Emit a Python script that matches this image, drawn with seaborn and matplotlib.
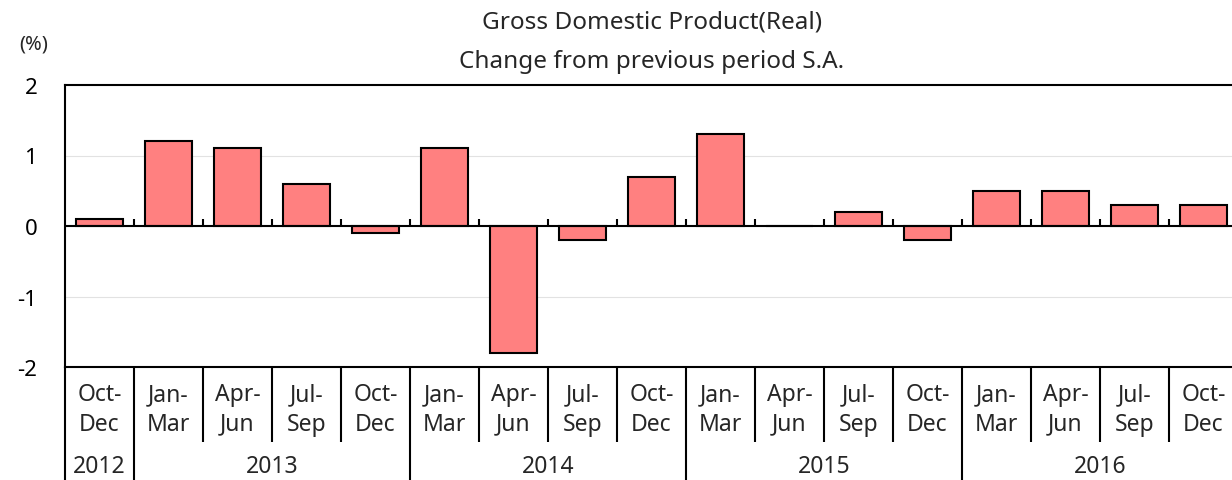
import matplotlib

matplotlib.use("Agg")
import matplotlib.pyplot as plt
import matplotlib.transforms as mtransforms
import pandas as pd
import seaborn as sns

# Quarterly real GDP growth, % change from previous period, seasonally adjusted
quarters = ["Oct-\nDec", "Jan-\nMar", "Apr-\nJun", "Jul-\nSep", "Oct-\nDec",
            "Jan-\nMar", "Apr-\nJun", "Jul-\nSep", "Oct-\nDec",
            "Jan-\nMar", "Apr-\nJun", "Jul-\nSep", "Oct-\nDec",
            "Jan-\nMar", "Apr-\nJun", "Jul-\nSep", "Oct-\nDec"]
growth = [0.1, 1.2, 1.1, 0.6, -0.1, 1.1, -1.8, -0.2, 0.7,
          1.3, 0.0, 0.2, -0.2, 0.5, 0.5, 0.3, 0.3]
years = ["2012", "2013", "2014", "2015", "2016"]
year_sizes = [1, 4, 4, 4, 4]
y_ticks = [-2, -1, 0, 1, 2]

BAR_COLOR = "#FF8080"
FONT = ["Noto Sans", "DejaVu Sans"]

sns.set_theme(style="white")
plt.rcParams["font.family"] = FONT

df = pd.DataFrame({"pos": range(len(growth)), "value": growth})

fig = plt.figure(figsize=(12.32, 4.81), dpi=100)
ax = fig.add_axes([65 / 1232, 1 - 368 / 481, (1238 - 65) / 1232, (368 - 86) / 481])

sns.barplot(data=df, x="pos", y="value", color=BAR_COLOR, saturation=1,
            width=0.67, edgecolor="black", linewidth=1.5, ax=ax, zorder=3)

n = len(growth)
ax.set_xlim(-0.5, n - 0.5)
ax.set_ylim(y_ticks[0], y_ticks[-1])
ax.set_yticks(y_ticks)
ax.set_yticklabels([str(t) for t in y_ticks], fontsize=16, color="black")
ax.tick_params(axis="y", direction="in", length=5, width=1.5, pad=20, color="black")
ax.set_xticks([])
ax.set_xlabel("")
ax.set_ylabel("")

for s in ["top", "left", "bottom"]:
    ax.spines[s].set_color("black")
    ax.spines[s].set_linewidth(1.5)
ax.spines["right"].set_visible(False)

# light gridlines and bold zero line
for t in y_ticks[1:-1]:
    if t != 0:
        ax.axhline(t, color="#e2e2e2", lw=0.8, zorder=1)
ax.axhline(0, color="black", lw=1.5, zorder=4)

# small upward ticks on the zero line at quarter boundaries
bounds = [i + 0.5 for i in range(n - 1)]
ax.vlines(bounds, 0, 0.1, color="black", lw=1.5, zorder=4)

# category table below the axes
trans = mtransforms.blended_transform_factory(ax.transData, ax.transAxes)
px = 1 / (368 - 86)  # one pixel in axes units
for i, q in enumerate(quarters):
    ax.text(i, -42 * px, q, transform=trans, ha="center", va="center",
            fontsize=16.5, linespacing=1.3, clip_on=False)

year_starts = [sum(year_sizes[:k]) for k in range(len(years))]
for b in bounds:
    is_year = (b + 0.5) in year_starts
    bottom = -113 * px if is_year else -75 * px
    ax.plot([b, b], [0, bottom], transform=trans, color="black", lw=1.5,
            clip_on=False, solid_capstyle="butt")
ax.plot([-0.5, -0.5], [0, -113 * px], transform=trans, color="black", lw=1.5,
        clip_on=False, solid_capstyle="butt")

for y, start, size in zip(years, year_starts, year_sizes):
    ax.text(start + (size - 1) / 2, -99 * px, y, transform=trans, ha="center",
            va="center", fontsize=16.5, clip_on=False)

# titles (centred over the plot area) and unit label
title_x = (65 + 1238) / 2 / 1232
ax.text(title_x, 1 - 23 / 481, "Gross Domestic Product(Real)", transform=fig.transFigure,
        ha="center", va="center", fontsize=17.5)
ax.text(title_x, 1 - 62 / 481, "Change from previous period S.A.", transform=fig.transFigure,
        ha="center", va="center", fontsize=17.5)
ax.text(34 / 1232, 1 - 45 / 481, "(%)", transform=fig.transFigure,
        ha="center", va="center", fontsize=14.5)

fig.savefig("out.png", dpi=100)
plt.close(fig)
